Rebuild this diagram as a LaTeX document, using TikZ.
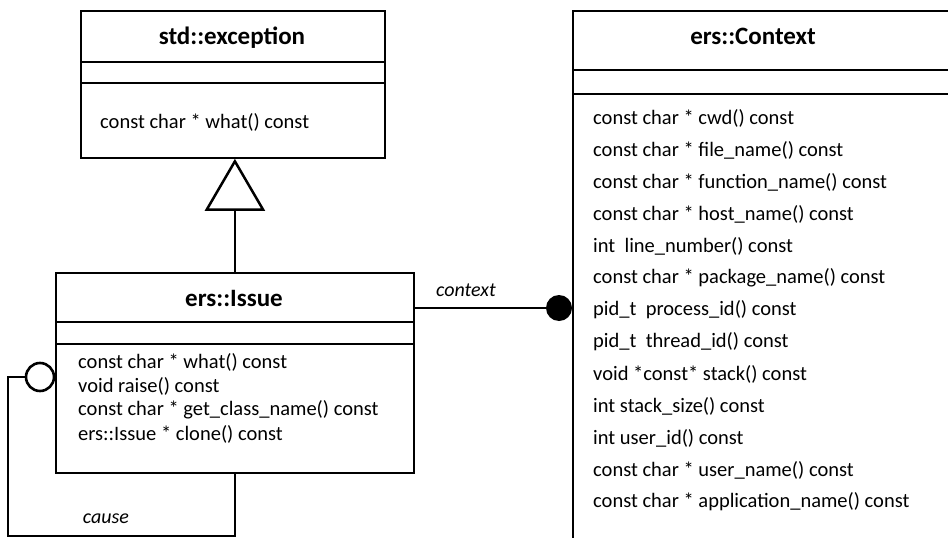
\documentclass[tikz,border=0pt]{standalone}
\usepackage{fontspec}
\setmainfont{Carlito}
\usetikzlibrary{arrows.meta}

\tikzset{
  classbox/.style={draw, line width=1.8pt, rectangle, inner sep=0pt, anchor=north west},
  classtitle/.style={font=\fontsize{25}{30}\selectfont\bfseries, inner sep=0pt},
  member/.style={anchor=west, font=\fontsize{20.5}{24}\selectfont, inner sep=0pt},
  rolelabel/.style={font=\fontsize{20}{24}\selectfont\itshape, inner sep=0pt},
  sepline/.style={line width=1.8pt},
  assoc/.style={line width=1.8pt},
}

\begin{document}
\begin{tikzpicture}[x=1pt,y=-1pt]
    \useasboundingbox (0,0) rectangle (948,538);
    % std::exception
    \node[classbox, minimum width=304pt, minimum height=147pt] (exc) at (80,10) {};
    \node[classtitle] (exctitle) at (232,38) {std::exception};
    \draw[sepline] (exc.west |- 0,62) -- (exc.east |- 0,62);
    \draw[sepline] (exc.west |- 0,83) -- (exc.east |- 0,83);
    \node[member] (excwhat) at (100,122) {const char * what() const};
    % ers::Issue
    \node[classbox, minimum width=358pt, minimum height=200pt] (iss) at (55,272) {};
    \node[classtitle] (isstitle) at (234,298) {ers::Issue};
    \draw[sepline] (iss.west |- 0,322) -- (iss.east |- 0,322);
    \draw[sepline] (iss.west |- 0,344) -- (iss.east |- 0,344);
    \node[member] (isswhat) at (78,362) {const char * what() const};
    \node[member] (issraise) at (78,386) {void raise() const};
    \node[member] (issname) at (78,410) {const char * get\_class\_name() const};
    \node[member] (issclone) at (78,434) {ers::Issue * clone() const};
    % ers::Context, cut off at the page edge
    \begin{scope}
      \clip (0,0) rectangle (948,538);
      \node[classbox, minimum width=400pt, minimum height=600pt] (ctx) at (572,10) {};
      \draw[sepline] (ctx.west |- 0,70) -- (948,70);
      \draw[sepline] (ctx.west |- 0,94) -- (948,94);
    \end{scope}
    \node[classtitle] (ctxtitle) at (753,36) {ers::Context};
    \foreach \m [count=\i from 0] in {%
        const char * cwd() const,
        const char * file\_name() const,
        const char * function\_name() const,
        const char * host\_name() const,
        int\ \ line\_number() const,
        const char * package\_name() const,
        pid\_t\ \ process\_id() const,
        pid\_t\ \ thread\_id() const,
        void *const* stack() const,
        int stack\_size() const,
        int user\_id() const,
        const char * user\_name() const,
        const char * application\_name() const}
      \node[member] (ctxm\i) at (593,118+32*\i) {\m};
    % inheritance
    \draw[line width=1.8pt, -{Triangle[open, length=52pt, width=60pt, line width=2.5pt]}]
      (iss.north) -- (iss.north |- exc.south);
    % context association
    \node[circle, fill, inner sep=0pt, minimum size=26pt] (ctxend) at (559,308) {};
    \draw[assoc] (iss.east |- ctxend) -- (ctxend);
    \node[rolelabel] (ctxrole) at (466,290) {context};
    % cause association
    \node[circle, draw, line width=2.6pt, inner sep=0pt, minimum size=28pt] (selfend) at (40,377) {};
    \coordinate (loop) at (8,536);
    \draw[assoc] (selfend.west) -| (loop) -| (iss.south);
    \node[rolelabel] (causerole) at (106,519) {cause};
\end{tikzpicture}
\end{document}
